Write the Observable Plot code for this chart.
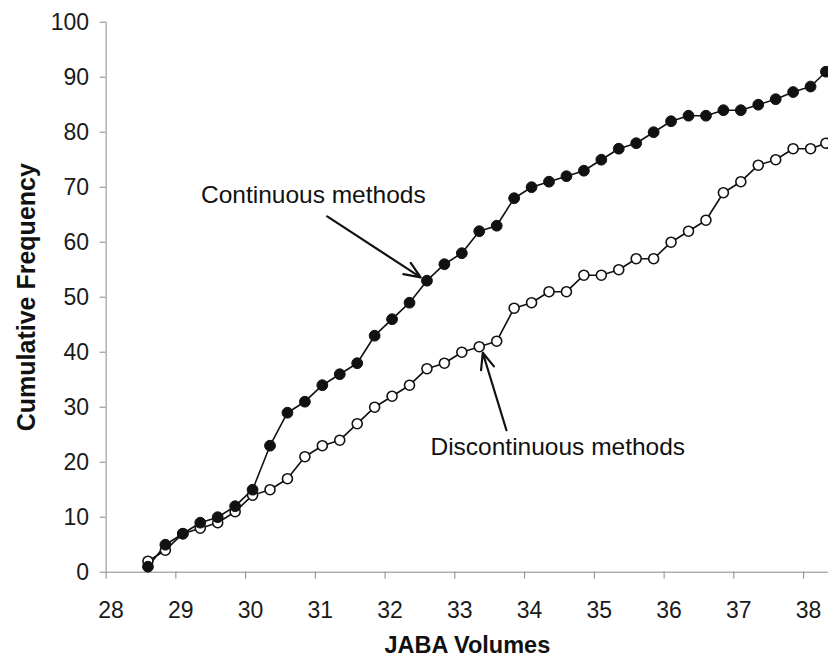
<!DOCTYPE html>
<html>
<head>
<meta charset="utf-8">
<script src="https://cdn.jsdelivr.net/npm/d3@7"></script>
<script src="https://cdn.jsdelivr.net/npm/@observablehq/plot@0.6"></script>
<style>
  html, body { margin: 0; padding: 0; background: #fff; }
  #chart svg { display: block; }
</style>
</head>
<body>
<div id="chart"></div>
<script>
// JABA volume (x) for each plotted point
const volumes = [28.6, 28.85, 29.1, 29.35, 29.6, 29.85, 30.1, 30.35, 30.6, 30.85,
                 31.1, 31.35, 31.6, 31.85, 32.1, 32.35, 32.6, 32.85, 33.1, 33.35,
                 33.6, 33.85, 34.1, 34.35, 34.6, 34.85, 35.1, 35.35, 35.6, 35.85,
                 36.1, 36.35, 36.6, 36.85, 37.1, 37.35, 37.6, 37.85, 38.1, 38.32];
// Cumulative frequency, continuous methods (filled dots)
const continuous = [1, 5, 7, 9, 10, 12, 15, 23, 29, 31,
                    34, 36, 38, 43, 46, 49, 53, 56, 58, 62,
                    63, 68, 70, 71, 72, 73, 75, 77, 78, 80,
                    82, 83, 83, 84, 84, 85, 86, 87.3, 88.3, 91];
// Cumulative frequency, discontinuous methods (open dots)
const discontinuous = [2, 4, 7, 8, 9, 11, 14, 15, 17, 21,
                       23, 24, 27, 30, 32, 34, 37, 38, 40, 41,
                       42, 48, 49, 51, 51, 54, 54, 55, 57, 57,
                       60, 62, 64, 69, 71, 74, 75, 77, 77, 78];
const xTicks = [28, 29, 30, 31, 32, 33, 34, 35, 36, 37, 38];
const yTicks = [0, 10, 20, 30, 40, 50, 60, 70, 80, 90, 100];
const xLabel = "JABA Volumes";
const yLabel = "Cumulative Frequency";
// Annotation labels and arrow endpoints (data coordinates)
const labels = [
  {text: "Continuous methods", x: 29.36, y: 68.5},
  {text: "Discontinuous methods", x: 32.65, y: 22.7}
];
const arrows = [
  {x1: 31.17, y1: 64.7, x2: 32.51, y2: 53.6},
  {x1: 33.74, y1: 25.8, x2: 33.40, y2: 39.9}
];

const cont = volumes.map((x, i) => ({x, y: continuous[i]}));
const disc = volumes.map((x, i) => ({x, y: discontinuous[i]}));

const chart = Plot.plot({
  width: 828,
  height: 657,
  marginLeft: 105.6,
  marginRight: 0,
  marginTop: 21.7,
  marginBottom: 85.3,
  style: {fontFamily: "'Liberation Sans', Arial, Helvetica, sans-serif", color: "#222", background: "#fff"},
  x: {domain: [28, 38.357]},
  y: {domain: [0, 100]},
  marks: [
    Plot.axisY(yTicks, {tickSize: 6, tickPadding: 11, fontSize: 23, stroke: "#888", fill: "#1a1a1a", label: null}),
    Plot.axisX(xTicks, {tickSize: 7, text: null, stroke: "#888", label: null}),
    Plot.axisX(xTicks, {tickSize: 0, tickPadding: 29, dx: 5, fontSize: 23, fill: "#1a1a1a", label: null}),
    Plot.ruleX([28], {stroke: "#888", strokeWidth: 1}),
    Plot.ruleY([0], {stroke: "#888", strokeWidth: 1}),
    Plot.line(disc, {x: "x", y: "y", stroke: "#111", strokeWidth: 1.6}),
    Plot.line(cont, {x: "x", y: "y", stroke: "#111", strokeWidth: 1.6}),
    Plot.dot(disc, {x: "x", y: "y", r: 5, fill: "#fff", stroke: "#111", strokeWidth: 1.6}),
    Plot.dot(cont, {x: "x", y: "y", r: 5.4, fill: "#111", stroke: "#111", strokeWidth: 1}),
    Plot.arrow(arrows, {x1: "x1", y1: "y1", x2: "x2", y2: "y2", stroke: "#111", strokeWidth: 2.2, headLength: 12, headAngle: 45}),
    Plot.text(labels, {x: "x", y: "y", text: "text", textAnchor: "start", fontSize: 24.5, fill: "#111"}),
    Plot.text([xLabel], {frameAnchor: "bottom", lineAnchor: "middle", dy: 73, fontSize: 23.5, fontWeight: "bold", fill: "#111"}),
    Plot.text([yLabel], {frameAnchor: "left", textAnchor: "middle", lineAnchor: "middle", dx: -79, rotate: -90, fontSize: 25, fontWeight: "bold", fill: "#111"})
  ]
});
document.getElementById("chart").append(chart);
</script>
</body>
</html>
